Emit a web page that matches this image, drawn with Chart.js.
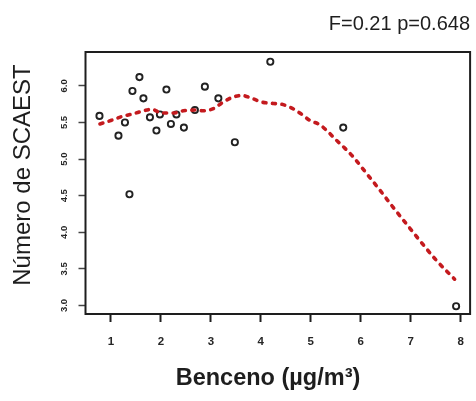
<!DOCTYPE html>
<html>
<head>
<meta charset="utf-8">
<script src="https://cdn.jsdelivr.net/npm/chart.js@4/dist/chart.umd.min.js"></script>
<style>
  html, body { margin: 0; padding: 0; background: #ffffff; }
  canvas { display: block; }
</style>
</head>
<body>
<canvas id="c" width="476" height="401"></canvas>
<script>
// Benzene exposure (µg/m³) and SCAEST count per observation
const benceno = [0.77, 1.15, 1.28, 1.37, 1.43, 1.57, 1.65, 1.78, 1.91, 1.98, 2.11,
                 2.20, 2.31, 2.46, 2.68, 2.88, 3.15, 3.48, 4.19, 5.65, 7.91];
const scaest  = [5.59, 5.32, 5.50, 4.52, 5.93, 6.12, 5.83, 5.57, 5.39, 5.61, 5.95,
                 5.48, 5.61, 5.43, 5.67, 5.99, 5.83, 5.23, 6.33, 5.43, 2.99];

// Smoothed (loess) trend
const loessX = [0.78, 1.01, 1.21, 1.45, 1.65, 1.82, 2.01, 2.25, 2.45, 2.68, 2.85,
                3.05, 3.25, 3.42, 3.62, 3.82, 4.01, 4.25, 4.41, 4.61, 4.78, 4.98,
                5.18, 5.35, 5.51, 5.68, 5.85, 6.11, 6.38, 6.65, 6.85, 7.18, 7.51, 7.88];
const loessY = [5.48, 5.53, 5.58, 5.62, 5.66, 5.68, 5.63, 5.63, 5.66, 5.67, 5.66,
                5.69, 5.78, 5.84, 5.87, 5.83, 5.78, 5.76, 5.75, 5.70, 5.63, 5.53,
                5.47, 5.37, 5.26, 5.15, 5.03, 4.81, 4.58, 4.34, 4.17, 3.89, 3.62, 3.36];

const xTicks = [1, 2, 3, 4, 5, 6, 7, 8];
const xTickLabels = ['1', '2', '3', '4', '5', '6', '7', '8'];
const yTicks = [3.0, 3.5, 4.0, 4.5, 5.0, 5.5, 6.0];
const yTickLabels = ['3.0', '3.5', '4.0', '4.5', '5.0', '5.5', '6.0'];

const statText = 'F=0.21 p=0.648';
const xTitle = 'Benceno (µg/m³)';
const yTitle = 'Número de SCAEST';

const INK = '#1e1e1e';

// Frame, tick labels and titles
const decorations = {
  id: 'decorations',
  afterDraw(chart) {
    const ctx = chart.ctx;
    const a = chart.chartArea;
    const xs = chart.scales.x, ys = chart.scales.y;
    ctx.save();

    ctx.strokeStyle = INK;
    ctx.lineWidth = 2;
    ctx.strokeRect(a.left, a.top, a.right - a.left, a.bottom - a.top);

    ctx.fillStyle = '#262626';
    ctx.font = 'bold 11.5px "Liberation Sans", Arial, sans-serif';
    ctx.textAlign = 'center';
    ctx.textBaseline = 'alphabetic';
    xTicks.forEach((v, i) => {
      ctx.fillText(xTickLabels[i], xs.getPixelForValue(v), 345);
    });

    ctx.font = 'bold 9.5px "Liberation Sans", Arial, sans-serif';
    yTicks.forEach((v, i) => {
      ctx.save();
      ctx.translate(66.5, ys.getPixelForValue(v));
      ctx.rotate(-Math.PI / 2);
      ctx.textAlign = 'center';
      ctx.fillText(yTickLabels[i], 0, 0);
      ctx.restore();
    });

    ctx.fillStyle = INK;
    ctx.font = 'bold 23.5px "Liberation Sans", Arial, sans-serif';
    ctx.textAlign = 'center';
    ctx.fillText(xTitle, 268, 385);

    ctx.save();
    ctx.font = '24px "Liberation Sans", Arial, sans-serif';
    ctx.translate(30, 175);
    ctx.rotate(-Math.PI / 2);
    ctx.textAlign = 'center';
    ctx.fillText(yTitle, 0, 0);
    ctx.restore();

    ctx.font = '20px "Liberation Sans", Arial, sans-serif';
    ctx.textAlign = 'right';
    ctx.fillText(statText, 470, 30);

    ctx.restore();
  }
};

new Chart(document.getElementById('c'), {
  type: 'scatter',
  data: {
    datasets: [
      {
        type: 'line',
        data: loessX.map((x, i) => ({ x, y: loessY[i] })),
        borderColor: '#c41a1e',
        borderWidth: 3.6,
        borderDash: [3, 6.5],
        borderCapStyle: 'round',
        pointRadius: 0,
        fill: false,
        tension: 0.4,
        cubicInterpolationMode: 'monotone',
        order: 0
      },
      {
        data: benceno.map((x, i) => ({ x, y: scaest[i] })),
        pointRadius: 3.1,
        pointBorderWidth: 1.9,
        pointBorderColor: '#222222',
        pointBackgroundColor: '#ffffff',
        order: 1
      }
    ]
  },
  options: {
    responsive: false,
    animation: false,
    devicePixelRatio: 1,
    layout: { padding: { top: 52, right: 5, left: 0, bottom: 0 } },
    plugins: { legend: { display: false }, tooltip: { enabled: false } },
    scales: {
      x: {
        type: 'linear',
        min: 0.49, max: 8.19,
        afterBuildTicks: s => { s.ticks = xTicks.map(v => ({ value: v })); },
        afterFit: s => { s.height = 87; },
        ticks: { display: false },
        border: { display: false },
        grid: { drawOnChartArea: false, drawTicks: true, tickLength: 8, tickWidth: 2, tickColor: INK }
      },
      y: {
        type: 'linear',
        min: 2.884, max: 6.463,
        afterBuildTicks: s => { s.ticks = yTicks.map(v => ({ value: v })); },
        afterFit: s => { s.width = 85.5; },
        ticks: { display: false },
        border: { display: false },
        grid: { drawOnChartArea: false, drawTicks: true, tickLength: 7, tickWidth: 1.5, tickColor: '#444444' }
      }
    }
  },
  plugins: [decorations]
});
</script>
</body>
</html>
